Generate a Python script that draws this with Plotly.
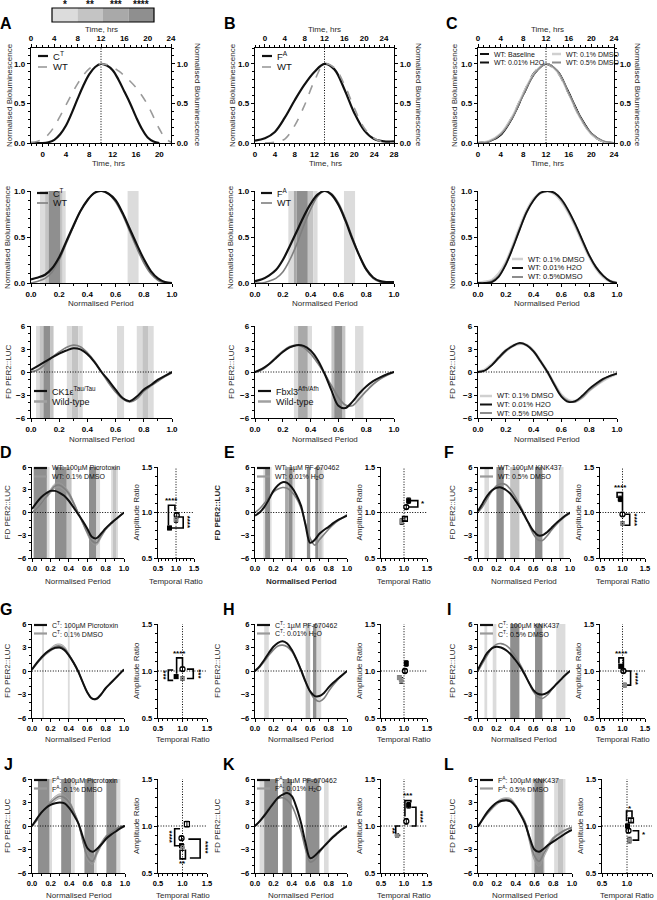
import plotly.graph_objects as go

W, H = 657, 900
FONT = "Liberation Sans, Arial, sans-serif"
INK = "#111111"
MID = "#7f7f7f"
SHADE = {1: "#dcdcdc", 2: "#c4c4c4", 3: "#a9a9a9", 4: "#8f8f8f"}
DOT = "1px,1.6px"

# ---------------- data ----------------
# row 1: normalised bioluminescence against time (hrs)
A1_ct_t = [-2, -1, 0, 1, 2, 3, 4, 5, 6, 7, 8, 9, 10, 11, 12, 13, 14, 15, 16, 17, 18, 19, 20]
A1_ct = [0, 0, 0, 0.01, 0.04, 0.11, 0.22, 0.38, 0.56, 0.73, 0.87, 0.96, 1.0, 0.98, 0.92, 0.8, 0.65, 0.5, 0.33, 0.18, 0.07, 0.02, 0.0]
A1_wt_t = list(range(0, 25))
A1_wt = [0.01, 0.02, 0.05, 0.11, 0.21, 0.34, 0.48, 0.62, 0.75, 0.86, 0.94, 0.99, 1.0, 0.99, 0.96, 0.91, 0.85, 0.78, 0.7, 0.6, 0.48, 0.33, 0.18, 0.06, 0.01]

B1_fa_t = [0, 2, 4, 6, 8, 10, 12, 14, 16, 18, 20, 22, 24, 26, 28]
B1_fa = [0.03, 0.06, 0.14, 0.32, 0.54, 0.74, 0.9, 1.0, 0.93, 0.68, 0.38, 0.16, 0.05, 0.02, 0.02]
B1_wt_t = [0, 2, 4, 6, 8, 10, 12, 14, 16, 18, 20, 22, 24, 26]
B1_wt = [0.0, 0.01, 0.05, 0.22, 0.48, 0.79, 1.0, 0.95, 0.74, 0.44, 0.19, 0.06, 0.01, 0.0]

C1_t = [0, 2, 4, 6, 8, 10, 12, 14, 16, 18, 20, 22, 24]
C1_base = [0, 0.02, 0.11, 0.32, 0.62, 0.89, 1.0, 0.9, 0.63, 0.33, 0.12, 0.02, 0.0]
C1_h2o = [0, 0.02, 0.1, 0.31, 0.61, 0.88, 1.0, 0.91, 0.64, 0.34, 0.12, 0.02, 0.0]
C1_dmso01 = [0, 0.03, 0.12, 0.33, 0.63, 0.89, 1.0, 0.9, 0.62, 0.32, 0.11, 0.02, 0.0]
C1_dmso05 = [0, 0.02, 0.11, 0.31, 0.61, 0.88, 1.0, 0.91, 0.63, 0.33, 0.12, 0.03, 0.0]

# normalised period grid
NP = [0.0, 0.05, 0.1, 0.15, 0.2, 0.25, 0.3, 0.35, 0.4, 0.45, 0.5,
      0.55, 0.6, 0.65, 0.7, 0.75, 0.8, 0.85, 0.9, 0.95, 1.0]

# row 2: waveform over normalised period
A2_ct = [0.04, 0.06, 0.09, 0.16, 0.28, 0.45, 0.62, 0.78, 0.9, 0.98, 1.0, 0.97, 0.9, 0.76, 0.59, 0.42, 0.26, 0.13, 0.05, 0.01, 0.0]
A2_wt = [0.0, 0.02, 0.05, 0.12, 0.25, 0.43, 0.61, 0.78, 0.9, 0.98, 1.0, 0.97, 0.88, 0.74, 0.56, 0.38, 0.22, 0.1, 0.03, 0.0, 0.0]
B2_fa = [0.02, 0.04, 0.08, 0.14, 0.25, 0.4, 0.56, 0.72, 0.86, 0.96, 1.0, 0.96, 0.85, 0.68, 0.48, 0.3, 0.15, 0.06, 0.02, 0.01, 0.01]
B2_wt = [0.0, 0.0, 0.02, 0.05, 0.12, 0.25, 0.42, 0.62, 0.8, 0.94, 1.0, 0.97, 0.87, 0.7, 0.5, 0.3, 0.14, 0.05, 0.01, 0.0, 0.0]
C2_dmso01 = [0.0, 0.01, 0.03, 0.1, 0.22, 0.4, 0.6, 0.78, 0.91, 0.98, 1.0, 0.97, 0.89, 0.77, 0.62, 0.45, 0.29, 0.16, 0.07, 0.02, 0.0]
C2_h2o = [0.0, 0.0, 0.01, 0.07, 0.2, 0.38, 0.58, 0.77, 0.9, 0.98, 1.0, 0.98, 0.91, 0.79, 0.64, 0.47, 0.3, 0.17, 0.08, 0.02, 0.0]
C2_dmso05 = [0.0, 0.0, 0.02, 0.08, 0.21, 0.39, 0.59, 0.77, 0.9, 0.98, 1.0, 0.98, 0.9, 0.78, 0.63, 0.46, 0.3, 0.17, 0.08, 0.02, 0.0]

# row 3: first derivative of PER2::LUC
A3_tau = [0.26, 0.8, 1.35, 1.9, 2.4, 2.8, 3.1, 2.95, 2.3, 1.3, 0.0, -1.1, -2.3, -3.4, -3.8, -3.2, -2.3, -1.7, -1.0, -0.5, 0.0]
A3_wt = [0.0, 0.3, 1.0, 1.9, 2.6, 3.2, 3.5, 3.3, 2.5, 1.4, 0.0, -1.4, -2.6, -3.5, -3.9, -3.5, -2.5, -1.8, -1.2, -0.6, -0.1]
B3_afh = [0.0, 0.4, 1.0, 1.8, 2.6, 3.2, 3.5, 3.4, 2.8, 1.6, -0.2, -2.4, -4.4, -4.7, -3.9, -2.8, -1.9, -1.2, -0.7, -0.3, 0.0]
B3_wt = [0.0, 0.3, 1.0, 1.9, 2.7, 3.3, 3.5, 3.2, 2.4, 1.2, -0.2, -1.8, -3.3, -4.3, -4.4, -3.5, -2.5, -1.6, -0.9, -0.4, 0.0]
C3_dmso01 = [0.0, 0.3, 1.0, 1.9, 2.8, 3.4, 3.7, 3.5, 2.7, 1.4, 0.0, -1.6, -3.0, -3.7, -3.8, -3.3, -2.4, -1.7, -1.1, -0.6, -0.2]
C3_h2o = [0.0, 0.2, 0.9, 1.9, 2.8, 3.4, 3.8, 3.5, 2.7, 1.4, 0.0, -1.7, -3.2, -3.9, -3.8, -3.1, -2.2, -1.5, -0.9, -0.5, -0.2]
C3_dmso05 = [0.0, 0.2, 0.9, 1.8, 2.7, 3.4, 3.7, 3.5, 2.7, 1.4, 0.0, -1.6, -3.1, -3.8, -3.9, -3.3, -2.4, -1.7, -1.0, -0.5, -0.2]

# rows D-L: drug vs vehicle, first derivative
D_drug = [0.47, 1.3, 2.0, 2.5, 2.85, 2.85, 2.6, 2.2, 1.55, 0.7, -0.2, -1.1, -2.1, -3.2, -3.4, -2.8, -2.1, -1.5, -1.0, -0.5, 0.0]
D_veh = [0.0, 0.5, 1.2, 2.0, 2.8, 3.5, 3.6, 3.2, 2.5, 1.3, 0.0, -1.3, -2.6, -3.7, -4.0, -3.1, -2.2, -1.6, -1.0, -0.5, 0.0]
E_drug = [-0.4, 0.0, 0.7, 1.7, 2.85, 3.6, 4.0, 3.9, 3.3, 2.3, 0.9, -1.7, -4.0, -3.6, -2.8, -2.3, -1.9, -1.4, -1.0, -0.7, -0.4]
E_veh = [0.0, 0.5, 1.2, 2.0, 2.7, 3.1, 3.3, 3.2, 2.7, 1.9, 0.6, -1.5, -3.4, -4.3, -3.6, -2.9, -2.2, -1.6, -1.1, -0.7, -0.3]
F_drug = [0.2, 1.2, 2.2, 2.9, 3.25, 3.3, 3.0, 2.5, 1.7, 0.8, -0.3, -1.4, -2.4, -3.0, -3.0, -2.6, -2.0, -1.4, -0.9, -0.4, 0.0]
F_veh = [0.0, 0.8, 1.8, 2.8, 3.5, 3.8, 3.7, 3.1, 2.2, 1.1, -0.1, -1.5, -2.8, -3.6, -3.7, -3.1, -2.3, -1.6, -1.0, -0.5, -0.1]
G_drug = [0.2, 1.0, 1.7, 2.3, 2.7, 2.95, 3.0, 2.7, 2.0, 1.1, 0.0, -1.4, -2.7, -3.5, -3.55, -3.0, -2.2, -1.6, -1.0, -0.4, 0.2]
G_veh = [0.2, 0.9, 1.6, 2.2, 2.7, 3.1, 3.2, 2.9, 2.1, 1.1, 0.0, -1.4, -2.7, -3.5, -3.6, -3.0, -2.2, -1.6, -1.0, -0.4, 0.2]
H_drug = [0.0, 0.6, 1.4, 2.3, 3.1, 3.6, 3.8, 3.5, 2.7, 1.5, 0.1, -1.4, -2.6, -3.2, -3.2, -2.8, -2.1, -1.5, -1.0, -0.5, 0.0]
H_veh = [0.0, 0.5, 1.2, 2.0, 2.7, 3.2, 3.3, 3.1, 2.5, 1.5, 0.2, -1.3, -2.7, -3.6, -3.9, -3.5, -2.6, -1.8, -1.1, -0.5, 0.0]
I_drug = [0.2, 1.3, 2.3, 2.9, 3.1, 3.0, 2.7, 2.2, 1.5, 0.7, -0.3, -1.4, -2.4, -2.9, -3.0, -2.8, -2.3, -1.7, -1.1, -0.5, 0.0]
I_veh = [0.0, 1.0, 2.0, 2.9, 3.4, 3.5, 3.3, 2.8, 2.0, 1.0, -0.1, -1.4, -2.6, -3.3, -3.5, -3.1, -2.4, -1.7, -1.1, -0.5, 0.0]
J_drug = [0.0, 0.9, 1.7, 2.3, 2.7, 2.9, 3.0, 2.9, 2.3, 1.4, 0.3, -1.5, -2.9, -3.3, -2.9, -2.3, -1.6, -1.1, -0.7, -0.3, 0.0]
J_veh = [0.0, 0.7, 1.6, 2.4, 3.0, 3.5, 3.8, 3.6, 3.0, 1.8, 0.3, -2.0, -4.0, -4.5, -3.3, -2.2, -1.3, -0.8, -0.4, -0.1, 0.0]
K_drug = [0.0, 0.6, 1.3, 2.1, 2.9, 3.6, 4.0, 4.2, 3.8, 2.4, 0.4, -2.2, -4.1, -3.8, -3.2, -2.6, -2.0, -1.4, -0.9, -0.4, 0.0]
K_veh = [0.0, 0.6, 1.4, 2.3, 3.0, 3.5, 3.6, 3.3, 2.6, 1.2, -0.6, -3.0, -4.6, -4.3, -3.4, -2.6, -1.9, -1.3, -0.8, -0.4, -0.1]
L_drug = [-0.1, 0.9, 1.8, 2.5, 3.0, 3.2, 3.3, 3.1, 2.5, 1.5, 0.3, -1.5, -3.0, -3.3, -2.9, -2.4, -2.0, -1.6, -1.2, -0.8, -0.5]
L_veh = [0.0, 0.8, 1.6, 2.3, 2.9, 3.3, 3.4, 3.3, 2.6, 1.6, 0.5, -1.8, -3.8, -4.5, -3.5, -2.5, -1.6, -1.1, -0.7, -0.4, -0.2]

# SEM of the vehicle traces where it is visible
D_sem = [0.05, 0.1, 0.15, 0.2, 0.25, 0.3, 0.3, 0.3, 0.25, 0.2, 0.1, 0.15, 0.25, 0.3, 0.3, 0.25, 0.15, 0.1, 0.1, 0.05, 0.05]
G_sem = [0.05, 0.05, 0.1, 0.15, 0.2, 0.25, 0.25, 0.25, 0.15, 0.1, 0.05, 0.05, 0.05, 0.05, 0.05, 0.05, 0.05, 0.05, 0.05, 0.05, 0.05]
J_sem = [0.05, 0.1, 0.15, 0.2, 0.25, 0.3, 0.3, 0.3, 0.25, 0.2, 0.15, 0.3, 0.4, 0.4, 0.35, 0.25, 0.15, 0.1, 0.1, 0.05, 0.05]
L_sem = [0.05, 0.05, 0.1, 0.15, 0.2, 0.2, 0.2, 0.2, 0.15, 0.15, 0.2, 0.4, 0.6, 0.65, 0.5, 0.3, 0.2, 0.1, 0.1, 0.05, 0.05]

# significance bands: (start, end, level 1-4 = * .. ****)
A2_bands = [(0.064, 0.1, 1), (0.1, 0.125, 2), (0.125, 0.21, 4), (0.21, 0.225, 2), (0.225, 0.246, 1), (0.685, 0.763, 1)]
B2_bands = [(0.24, 0.28, 1), (0.28, 0.3, 3), (0.3, 0.38, 4), (0.38, 0.42, 2), (0.42, 0.45, 1), (0.64, 0.72, 1)]
A3_bands = [(0.036, 0.06, 1), (0.06, 0.088, 2), (0.088, 0.135, 4), (0.135, 0.16, 2), (0.254, 0.29, 1), (0.29, 0.336, 2),
            (0.336, 0.367, 1), (0.61, 0.66, 1), (0.75, 0.79, 1), (0.79, 0.834, 2), (0.834, 0.87, 1)]
B3_bands = [(0.28, 0.31, 1), (0.31, 0.38, 3), (0.38, 0.41, 1), (0.55, 0.57, 2), (0.57, 0.63, 4), (0.63, 0.65, 2), (0.72, 0.78, 1)]
D_bands = [(0.018, 0.162, 4), (0.162, 0.19, 1), (0.25, 0.378, 4), (0.378, 0.43, 2), (0.62, 0.7, 4), (0.7, 0.74, 1),
           (0.86, 0.88, 1), (0.88, 0.92, 2), (0.92, 0.935, 1)]
E_bands = [(0.09, 0.11, 1), (0.11, 0.164, 4), (0.164, 0.18, 1), (0.327, 0.364, 3), (0.364, 0.41, 4), (0.41, 0.436, 1),
           (0.564, 0.6, 4), (0.655, 0.69, 4), (0.69, 0.727, 2), (0.727, 0.745, 1)]
F_bands = [(0.07, 0.12, 1), (0.2, 0.28, 4), (0.35, 0.45, 2), (0.62, 0.7, 4), (0.88, 0.93, 1)]
G_bands = [(0.11, 0.13, 1), (0.39, 0.41, 1)]
H_bands = [(0.1, 0.15, 1), (0.55, 0.6, 2), (0.63, 0.67, 4), (0.67, 0.72, 1)]
I_bands = [(0.07, 0.1, 1), (0.16, 0.2, 1), (0.35, 0.45, 4), (0.62, 0.7, 4), (0.85, 0.95, 1)]
J_bands = [(0.064, 0.19, 4), (0.19, 0.215, 1), (0.314, 0.42, 4), (0.42, 0.46, 1), (0.564, 0.67, 4), (0.67, 0.695, 1),
           (0.8, 0.91, 4), (0.91, 0.95, 1)]
K_bands = [(0.05, 0.1, 1), (0.1, 0.25, 4), (0.3, 0.4, 4), (0.55, 0.7, 4), (0.75, 0.8, 1)]
L_bands = [(0.57, 0.6, 1), (0.6, 0.7, 4), (0.7, 0.71, 1), (0.81, 0.85, 1), (0.85, 0.91, 2), (0.91, 0.93, 1)]

# ratio plots: temporal ratio, amplitude ratio, error, and group kind
# kind: 0 vehicle, 1 drug, 2 mutant/baseline circle, 3 open square, 4 grey square
D_tr = [1.02, 0.82, 1.0]
D_ar = [0.97, 0.83, 0.92]
D_err = [0.03, 0.02, 0.03]
D_kind = [0, 1, 4]
E_tr = [1.05, 1.1, 0.95, 1.02]
E_ar = [1.06, 1.13, 0.9, 0.93]
E_err = [0.02, 0.03, 0.03, 0.02]
E_kind = [0, 1, 4, 3]
F_tr = [1.0, 0.95, 1.0]
F_ar = [0.98, 1.15, 0.88]
F_err = [0.02, 0.03, 0.02]
F_kind = [0, 1, 2]
G_tr = [1.0, 0.87, 1.0]
G_ar = [1.02, 0.94, 0.92]
G_err = [0.02, 0.02, 0.02]
G_kind = [0, 1, 2]
H_tr = [1.02, 1.05, 0.94, 0.9]
H_ar = [1.0, 1.08, 0.9, 0.93]
H_err = [0.02, 0.03, 0.03, 0.02]
H_kind = [0, 1, 2, 4]
I_tr = [1.02, 0.96, 1.05]
I_ar = [1.0, 1.05, 0.85]
I_err = [0.02, 0.02, 0.02]
I_kind = [0, 1, 2]
J_tr = [1.09, 0.98, 0.98, 1.0]
J_ar = [1.02, 0.87, 0.79, 0.77]
J_err = [0.03, 0.02, 0.02, 0.03]
J_kind = [3, 0, 1, 2]
K_tr = [1.05, 1.1, 0.85]
K_ar = [1.05, 1.22, 0.9]
K_err = [0.03, 0.03, 0.02]
K_kind = [0, 1, 2]
L_tr = [1.03, 1.01, 1.05, 1.08]
L_ar = [0.95, 1.0, 0.85, 1.06]
L_err = [0.02, 0.02, 0.03, 0.02]
L_kind = [0, 1, 4, 3]

# significance brackets on ratio plots: (x path, y path), then stars (x, y, label, angle)
D_brk = [([0.79, 0.79, 0.97, 0.97], [0.86, 1.08, 1.08, 1.02]), ([1.08, 1.2, 1.2, 0.88], [0.95, 0.95, 0.83, 0.83])]
D_star = [(0.87, 1.13, "****", 0), (1.33, 0.89, "****", 90)]
E_brk = [([1.15, 1.3, 1.3, 1.1], [1.13, 1.13, 1.06, 1.06])]
E_star = [(1.41, 1.1, "*", 0)]
F_brk = [([0.88, 0.88, 1.0, 1.0], [1.16, 1.22, 1.22, 1.02]), ([1.06, 1.16, 1.16, 1.04], [0.98, 0.98, 0.86, 0.86])]
F_star = [(0.95, 1.27, "****", 0), (1.26, 0.92, "****", 90)]
G_brk = [([0.81, 0.71, 0.71, 0.81], [1.01, 1.01, 0.9, 0.9]), ([0.88, 0.88, 1.0, 1.0], [0.97, 1.14, 1.14, 1.05]),
         ([1.09, 1.22, 1.22, 1.09], [1.02, 1.02, 0.92, 0.92])]
G_star = [(0.61, 0.95, "***", 90), (0.94, 1.19, "****", 0), (1.33, 0.97, "***", 90)]
H_brk = []
H_star = []
I_brk = [([0.92, 0.92, 1.02, 1.02], [1.08, 1.14, 1.14, 1.03]), ([1.06, 1.18, 1.18, 1.08], [1.0, 1.0, 0.85, 0.85])]
I_star = [(0.97, 1.19, "****", 0), (1.28, 0.92, "****", 90)]
J_brk = [([0.95, 0.84, 0.84, 0.95], [0.97, 0.97, 0.79, 0.79]), ([1.12, 1.36, 1.36, 1.15], [0.86, 0.86, 0.66, 0.66]),
         ([0.95, 0.95, 1.06, 1.06], [0.75, 0.65, 0.65, 0.75])]
J_star = [(0.74, 0.88, "****", 90), (1.47, 0.77, "****", 90), (1.0, 0.6, "**", 0)]
K_brk = [([1.02, 1.02, 1.15, 1.15], [1.1, 1.27, 1.27, 1.25]), ([1.16, 1.26, 1.26, 1.16], [1.2, 1.2, 1.0, 1.0]),
         ([0.92, 0.82, 0.82, 0.92], [1.0, 1.0, 0.9, 0.9])]
K_star = [(1.08, 1.32, "***", 0), (1.35, 1.1, "****", 90), (0.74, 0.95, "**", 90)]
L_brk = [([0.99, 0.99, 1.1, 1.1], [1.05, 1.16, 1.16, 1.09]), ([1.11, 1.23, 1.23, 1.11], [0.95, 0.95, 0.85, 0.85])]
L_star = [(1.05, 1.19, "*", 0), (1.33, 0.91, "*", 0)]

STAR_LABELS = ["*", "**", "***", "****"]

# ---------------- figure ----------------
fig = go.Figure()
annotations = []
shapes = []


def dom(x0, x1, y0, y1):
    return [x0 / W, x1 / W], [1 - y1 / H, 1 - y0 / H]


def axis_style(size):
    return dict(showline=True, linecolor="black", linewidth=1.4, ticks="outside", ticklen=3,
                tickwidth=1.2, tickcolor="black", showgrid=False, zeroline=False, automargin=False,
                tickfont=dict(family=FONT, size=size, color="black", weight="bold"))


axis_no = [0]


def make_axes(box, xr, yr, xd, yd, xfmt, yfmt, xminor=None, yminor=None, fs=7.5):
    axis_no[0] += 1
    k = "" if axis_no[0] == 1 else str(axis_no[0])
    xdom, ydom = dom(*box)
    xa = dict(axis_style(fs), domain=xdom, range=xr, anchor="y" + k, tick0=0, dtick=xd, tickformat=xfmt)
    ya = dict(axis_style(fs), domain=ydom, range=yr, anchor="x" + k, tick0=0, dtick=yd, tickformat=yfmt)
    if xminor:
        xa["minor"] = dict(ticks="outside", ticklen=2, tickwidth=1, tickcolor="black", dtick=xminor)
    if yminor:
        ya["minor"] = dict(ticks="outside", ticklen=2, tickwidth=1, tickcolor="black", dtick=yminor)
    fig.update_layout(**{"xaxis" + k: xa, "yaxis" + k: ya})
    return "x" + k, "y" + k


def overlay_axes(xa, ya, xr, yr, fs=8):
    axis_no[0] += 1
    k = str(axis_no[0])
    top = dict(axis_style(fs), overlaying=xa, side="top", anchor=ya, range=xr, tick0=0, dtick=4,
               minor=dict(ticks="outside", ticklen=2, tickwidth=1, tickcolor="black", dtick=1))
    right = dict(axis_style(fs), overlaying=ya, side="right", anchor=xa, range=yr, tick0=0, dtick=0.5,
                 tickformat=".1f",
                 minor=dict(ticks="outside", ticklen=2, tickwidth=1, tickcolor="black", dtick=0.1))
    fig.update_layout(**{"xaxis" + k: top, "yaxis" + k: right})
    return "x" + k, "y" + k


def line(xa, ya, x, y, color, width=2.0, dash="solid"):
    fig.add_trace(go.Scatter(x=x, y=y, xaxis=xa, yaxis=ya, mode="lines", line_shape="spline",
                             line=dict(color=color, width=width, dash=dash), hoverinfo="skip"))


def sem_band(xa, ya, x, mean, sem):
    lo = [m - s for m, s in zip(mean, sem)]
    hi = [m + s for m, s in zip(mean, sem)]
    fig.add_trace(go.Scatter(x=x, y=lo, xaxis=xa, yaxis=ya, mode="lines", line_shape="spline",
                             line=dict(color="#9a9a9a", width=0.8), hoverinfo="skip"))
    fig.add_trace(go.Scatter(x=x, y=hi, xaxis=xa, yaxis=ya, mode="lines", line_shape="spline",
                             line=dict(color="#9a9a9a", width=0.8), fill="tonexty",
                             fillcolor="rgba(150,150,150,0.45)", hoverinfo="skip"))


def bands(xa, ya, segs):
    for x0, x1, lvl in segs:
        shapes.append(dict(type="rect", xref=xa, yref=ya + " domain", x0=x0, x1=x1, y0=0, y1=1,
                           fillcolor=SHADE[lvl], line=dict(width=0), layer="below"))


def hdot(xa, ya, y0):
    shapes.append(dict(type="line", xref=xa + " domain", yref=ya, x0=0, x1=1, y0=y0, y1=y0,
                       line=dict(color="black", width=1, dash=DOT)))


def vdot(xa, ya, x0):
    shapes.append(dict(type="line", xref=xa, yref=ya + " domain", x0=x0, x1=x0, y0=0, y1=1,
                       line=dict(color="black", width=1, dash=DOT)))


def text(x, y, s, size=8, bold=False, color="#111", angle=0, xanchor="center"):
    annotations.append(dict(x=x / W, y=1 - y / H, xref="paper", yref="paper", text=s, showarrow=False,
                            xanchor=xanchor, yanchor="middle", textangle=angle,
                            font=dict(family=FONT, size=size, color=color,
                                      weight="bold" if bold else "normal")))


def title(x, y, s, angle=0, bold=False, size=8):
    text(x, y, s, size=size, bold=bold, color="#2a2a2a", angle=angle)


def key(x, y, items, dy=8, size=7.5, sample=12):
    for i, (label, color, width, dash) in enumerate(items):
        yy = 1 - (y + i * dy) / H
        shapes.append(dict(type="line", xref="paper", yref="paper", x0=x / W, x1=(x + sample) / W,
                           y0=yy, y1=yy, line=dict(color=color, width=width, dash=dash)))
        text(x + sample + 3, y + i * dy, label, size=size, xanchor="left")


# --- top colour key ---
for i, lab in enumerate(STAR_LABELS):
    x0 = 52 + i * 25.5
    shapes.append(dict(type="rect", xref="paper", yref="paper", x0=x0 / W, x1=(x0 + 25.5) / W,
                       y0=1 - 22 / H, y1=1 - 8 / H, fillcolor=SHADE[i + 1], line=dict(width=0)))
    text(x0 + 12.7, 4, lab, size=10, bold=True)
shapes.append(dict(type="rect", xref="paper", yref="paper", x0=52 / W, x1=154 / W,
                   y0=1 - 22 / H, y1=1 - 8 / H, line=dict(color="black", width=1.2)))

# --- row 1 ---
row1 = [
    ("A", 31, 171, [-2, 22], [0, 24], A1_ct_t, A1_ct, A1_wt_t, A1_wt, 10, "C<sup>T</sup>", 6, 10, 197, 108),
    ("B", 255, 394, [0, 28], [-2, 26], B1_fa_t, B1_fa, B1_wt_t, B1_wt, 14, "F<sup>A</sup>", 230, 233, 418, 325),
]
for letter, x0, x1, brange, trange, mt, mv, wt, wv, peak, name, lx, ytx, rtx, btx in row1:
    xa, ya = make_axes((x0, x1, 48, 143), brange, [0, 1.2], 4, 0.5, "d", ".1f", xminor=1, yminor=0.1, fs=8)
    xt, yr = overlay_axes(xa, ya, trange, [0, 1.2])
    vdot(xa, ya, peak)
    line(xt, yr, wt, wv, "#9a9a9a", 1.6, "dash")
    line(xa, ya, mt, mv, INK, 2.2)
    key(x0 + 7, 56, [(name, INK, 2.2, "solid"), ("WT", "#9a9a9a", 1.6, "dash")], dy=11, size=9.5, sample=10)
    title(ytx, 95, "Normalised Bioluminescence", angle=-90)
    title(rtx, 95, "Normalised Bioluminescence", angle=90)
    title((x0 + x1) / 2, 29, "Time, hrs")
    title(btx, 163, "Time, hrs")
    text(lx, 24, letter, size=16, bold=True, color="black")

xa, ya = make_axes((478, 614, 48, 143), [0, 24], [0, 1.2], 4, 0.5, "d", ".1f", xminor=1, yminor=0.1, fs=8)
xt, yr = overlay_axes(xa, ya, [0, 24], [0, 1.2])
vdot(xa, ya, 12)
line(xt, yr, C1_t, C1_dmso01, "#d0d0d0", 2.0)
line(xt, yr, C1_t, C1_dmso05, "#8c8c8c", 1.4)
line(xa, ya, C1_t, C1_h2o, INK, 1.8)
line(xa, ya, C1_t, C1_base, INK, 2.2, "dash")
key(480, 54, [("WT: Baseline", INK, 2, "dash"), ("WT: 0.01% H2O", INK, 2, "solid")], dy=8.5, size=7, sample=9)
key(552, 54, [("WT: 0.1% DMSO", "#d0d0d0", 2.5, "solid"), ("WT: 0.5% DMSO", "#8c8c8c", 2, "solid")],
    dy=8.5, size=7, sample=9)
title(455, 95, "Normalised Bioluminescence", angle=-90)
title(637, 95, "Normalised Bioluminescence", angle=90)
title(547, 29, "Time, hrs")
title(547, 163, "Time, hrs")
text(452, 24, "C", size=16, bold=True, color="black")

# --- row 2 ---
xa, ya = make_axes((31, 172, 191, 283), [0, 1], [0, 1], 0.2, 0.5, ".1f", ".1f", xminor=0.1, yminor=0.1, fs=8)
bands(xa, ya, A2_bands)
line(xa, ya, NP, A2_wt, MID, 1.6)
line(xa, ya, NP, A2_ct, INK, 2.2)
key(37, 193, [("C<sup>T</sup>", INK, 2.2, "solid"), ("WT", MID, 1.6, "solid")], dy=10, size=9, sample=11)
title(8, 237, "Normalised Bioluminescence", angle=-90)
title(101, 304, "Normalised Period")

xa, ya = make_axes((255, 394, 191, 283), [0, 1], [0, 1], 0.2, 0.5, ".1f", ".1f", xminor=0.1, yminor=0.1, fs=8)
bands(xa, ya, B2_bands)
line(xa, ya, NP, B2_wt, MID, 1.6)
line(xa, ya, NP, B2_fa, INK, 2.2)
key(261, 193, [("F<sup>A</sup>", INK, 2.2, "solid"), ("WT", MID, 1.6, "solid")], dy=10, size=9, sample=11)
title(231, 237, "Normalised Bioluminescence", angle=-90)
title(325, 304, "Normalised Period")

xa, ya = make_axes((478, 617, 191, 283), [0, 1], [0, 1], 0.2, 0.5, ".1f", ".1f", xminor=0.1, yminor=0.1, fs=8)
line(xa, ya, NP, C2_dmso01, "#d0d0d0", 3.0)
line(xa, ya, NP, C2_dmso05, "#8c8c8c", 1.8)
line(xa, ya, NP, C2_h2o, INK, 1.8)
key(512, 259, [("WT: 0.1% DMSO", "#d0d0d0", 2.5, "solid"), ("WT: 0.01% H2O", INK, 2, "solid"),
               ("WT: 0.5%DMSO", "#8c8c8c", 2, "solid")], dy=9, size=7.5, sample=11)
title(453, 237, "Normalised Bioluminescence", angle=-90)
title(547, 304, "Normalised Period")

# --- row 3 ---
row3 = [
    (31, 172, A3_bands, A3_tau, A3_wt, "CK1\u03b5<sup>Tau/Tau</sup>", 8),
    (255, 394, B3_bands, B3_afh, B3_wt, "Fbxl3<sup>Afh/Afh</sup>", 231),
]
for x0, x1, bnd, mut, wt, name, ytx in row3:
    xa, ya = make_axes((x0, x1, 326, 418), [0, 1], [-6, 6], 0.2, 3, ".1f", "d", xminor=0.1, yminor=1, fs=8)
    bands(xa, ya, bnd)
    hdot(xa, ya, 0)
    line(xa, ya, NP, wt, MID, 1.8)
    line(xa, ya, NP, mut, INK, 2.0)
    key(x0 + 3, 391, [(name, INK, 2.2, "solid"), ("Wild-type", "#a0a0a0", 2.5, "solid")], dy=10.5,
        size=9, sample=13)
    title(ytx, 372, "FD PER2::LUC", angle=-90)
    title((x0 + x1) / 2, 439, "Normalised Period")

xa, ya = make_axes((478, 617, 326, 418), [0, 1], [-6, 6], 0.2, 3, ".1f", "d", xminor=0.1, yminor=1, fs=8)
hdot(xa, ya, 0)
line(xa, ya, NP, C3_dmso01, "#d0d0d0", 3.0)
line(xa, ya, NP, C3_dmso05, "#8c8c8c", 1.8)
line(xa, ya, NP, C3_h2o, INK, 1.8)
key(480, 396, [("WT: 0.1% DMSO", "#d0d0d0", 2.5, "solid"), ("WT: 0.01% H2O", INK, 2, "solid"),
               ("WT: 0.5% DMSO", "#8c8c8c", 2, "solid")], dy=8.5, size=7.5, sample=12)
title(452, 372, "FD PER2::LUC", angle=-90)
title(547, 439, "Normalised Period")

# --- panels D-L ---
MARK = [
    dict(symbol="circle-open", color="black", size=5, line=dict(width=1.3, color="black")),
    dict(symbol="square", color="black", size=5, line=dict(width=0)),
    dict(symbol="circle", color="#8a8a8a", size=5, line=dict(width=0)),
    dict(symbol="square-open", color="black", size=5, line=dict(width=1.2, color="black")),
    dict(symbol="square", color="#8a8a8a", size=5, line=dict(width=0)),
]

panels = [
    ("D", 0, 467, 558, 32, 124, 158, 194, D_bands, D_drug, D_veh, D_sem, "WT: 100\u00b5M Picrotoxin",
     "WT: 0.1% DMSO", D_tr, D_ar, D_err, D_kind, D_brk, D_star, False, 7, 581),
    ("E", 223, 467, 558, 255, 347, 381, 427, E_bands, E_drug, E_veh, None, "WT: 1\u00b5M PF-670462",
     "WT: 0.01% H<sub>2</sub>O", E_tr, E_ar, E_err, E_kind, E_brk, E_star, True, 217, 581),
    ("F", 443, 467, 558, 478, 570, 600, 645, F_bands, F_drug, F_veh, None, "WT: 100\u00b5M KNK437",
     "WT: 0.5% DMSO", F_tr, F_ar, F_err, F_kind, F_brk, F_star, False, 452, 581),
    ("G", 0, 624, 718, 32, 124, 158, 207, G_bands, G_drug, G_veh, G_sem, "C<sup>T</sup>: 100\u00b5M Picrotoxin",
     "C<sup>T</sup>: 0.1% DMSO", G_tr, G_ar, G_err, G_kind, G_brk, G_star, False, 7, 739),
    ("H", 223, 624, 718, 255, 347, 381, 427, H_bands, H_drug, H_veh, None, "C<sup>T</sup>: 1\u00b5M PF-670462",
     "C<sup>T</sup>: 0.01% H<sub>2</sub>O", H_tr, H_ar, H_err, H_kind, H_brk, H_star, False, 217, 739),
    ("I", 443, 624, 718, 478, 570, 600, 645, I_bands, I_drug, I_veh, None, "C<sup>T</sup>: 100\u00b5M KNK437",
     "C<sup>T</sup>: 0.5% DMSO", I_tr, I_ar, I_err, I_kind, I_brk, I_star, False, 452, 739),
    ("J", 2, 779, 873, 32, 125, 158, 207, J_bands, J_drug, J_veh, J_sem, "F<sup>A</sup>: 100\u00b5M Picrotoxin",
     "F<sup>A</sup>: 0.1% DMSO", J_tr, J_ar, J_err, J_kind, J_brk, J_star, False, 7, 895),
    ("K", 223, 779, 873, 255, 347, 381, 427, K_bands, K_drug, K_veh, None, "F<sup>A</sup>: 1\u00b5M PF-670462",
     "F<sup>A</sup>: 0.01% H<sub>2</sub>O", K_tr, K_ar, K_err, K_kind, K_brk, K_star, False, 217, 895),
    ("L", 443, 779, 873, 478, 572, 602, 652, L_bands, L_drug, L_veh, L_sem, "F<sup>A</sup>: 100\u00b5M KNK437",
     "F<sup>A</sup>: 0.5% DMSO", L_tr, L_ar, L_err, L_kind, L_brk, L_star, False, 452, 895),
]

for (letter, lx, y0, y1, mx0, mx1, sx0, sx1, bnd, drug, veh, sem, lab1, lab2,
     tr, ar, err, kind, brk, stars, boldt, ytx, btitle) in panels:
    xa, ya = make_axes((mx0, mx1, y0, y1), [0, 1], [-6, 6], 0.2, 3, ".1f", "d", xminor=0.1, yminor=1, fs=7.5)
    bands(xa, ya, bnd)
    hdot(xa, ya, 0)
    if sem:
        sem_band(xa, ya, NP, veh, sem)
    line(xa, ya, NP, veh, MID, 1.6)
    line(xa, ya, NP, drug, INK, 2.0)
    key(mx0 + 2, y0 + 1, [(lab1, INK, 2.2, "solid"), (lab2, "#9a9a9a", 2.2, "solid")], dy=8.5, size=7,
        sample=13)
    text(lx + 6, y0 - 15, letter, size=16, bold=True, color="black")
    title(ytx, (y0 + y1) / 2, "FD PER2::LUC", angle=-90, bold=boldt)
    title((mx0 + mx1) / 2, btitle, "Normalised Period", bold=boldt)

    sa, sb = make_axes((sx0, sx1, y0, y1), [0.5, 1.5], [0.5, 1.5], 0.5, 0.5, ".1f", ".1f",
                       xminor=0.1, yminor=0.1, fs=7.5)
    title(sx0 - 22, (y0 + y1) / 2, "Amplitude Ratio", angle=-90)
    title((sx0 + sx1) / 2, btitle, "Temporal Ratio")
    vdot(sa, sb, 1.0)
    hdot(sa, sb, 1.0)
    for bx, by in brk:
        fig.add_trace(go.Scatter(x=bx, y=by, xaxis=sa, yaxis=sb, mode="lines",
                                 line=dict(color="black", width=1.6), hoverinfo="skip"))
    for i in range(len(tr)):
        fig.add_trace(go.Scatter(x=[tr[i]], y=[ar[i]], xaxis=sa, yaxis=sb, mode="markers",
                                 marker=MARK[kind[i]], hoverinfo="skip",
                                 error_y=dict(type="data", array=[err[i]], thickness=1, width=2, color="black")))
    for sx, sy, s, ang in stars:
        annotations.append(dict(x=sx, y=sy, xref=sa, yref=sb, text=s, showarrow=False, textangle=ang,
                                font=dict(family=FONT, size=8, color="black", weight="bold")))

fig.update_layout(
    width=W, height=H,
    margin=dict(l=0, r=0, t=0, b=0),
    paper_bgcolor="white",
    plot_bgcolor="white",
    showlegend=False,
    font=dict(family=FONT, size=8, color="#111"),
    annotations=annotations,
    shapes=shapes,
)

fig.write_html("out.html", config={"displayModeBar": False},
               post_script="document.body.style.margin='0';")
